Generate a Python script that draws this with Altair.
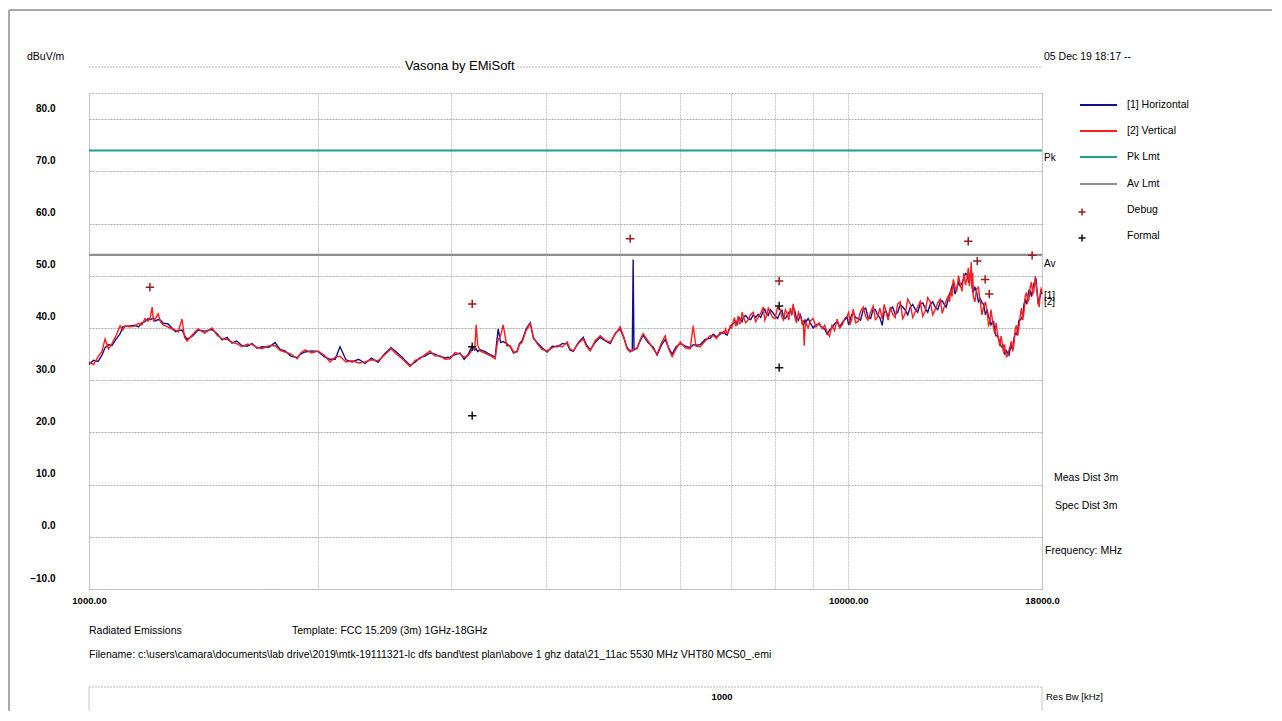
import altair as alt
import pandas as pd

# ---------------- data ----------------
FREQ_MHZ = [
    1000, 1014, 1028, 1040, 1050, 1061, 1072, 1085, 1099, 1108,
    1116, 1133, 1150, 1162, 1174, 1185, 1196, 1204, 1211, 1216,
    1222, 1233, 1242, 1252, 1270, 1286, 1300, 1310, 1326, 1336,
    1346, 1370, 1392, 1420, 1452, 1475, 1497, 1520, 1543, 1565,
    1591, 1615, 1640, 1665, 1690, 1725, 1758, 1785, 1812, 1845,
    1880, 1900, 1926, 1965, 2003, 2040, 2077, 2110, 2141, 2180,
    2221, 2265, 2310, 2355, 2403, 2450, 2500, 2540, 2585, 2648,
    2690, 2730, 2770, 2814, 2855, 2900, 2945, 2990, 3035, 3082,
    3120, 3158, 3197, 3222, 3236, 3250, 3275, 3320, 3376, 3428,
    3445, 3459, 3485, 3512, 3550, 3587, 3625, 3664, 3690, 3720,
    3765, 3812, 3850, 3893, 3950, 4013, 4075, 4137, 4200, 4265,
    4300, 4343, 4410, 4477, 4520, 4573, 4640, 4714, 4790, 4859,
    4935, 5007, 5060, 5115, 5162, 5195, 5209, 5222, 5272, 5320,
    5369, 5450, 5535, 5602, 5670, 5740, 5800, 5863, 5935, 6008,
    6100, 6192, 6249, 6300, 6383, 6480, 6579, 6640, 6710, 6782,
    6860, 6928, 6991, 7055, 7110, 7163, 7220, 7273, 7380, 7497,
    7610, 7728, 7800, 7893, 8010, 8137, 8220, 8311, 8390, 8464,
    8550, 8646, 8700, 8751, 8800, 8912, 9070, 9242, 9383, 9520,
    9672, 9820, 9970, 10060, 10153, 10300, 10466, 10620, 10788, 10930,
    11087, 11220, 11359, 11530, 11709, 11890, 12070, 12250, 12442, 12630,
    12825, 13020, 13220, 13380, 13545, 13650, 13752, 13900, 14047, 14200,
    14349, 14440, 14524, 14570, 14612, 14760, 14926, 15080, 15246, 15360,
    15479, 15600, 15716, 15840, 15956, 16030, 16102, 16220, 16348, 16470,
    16598, 16720, 16848, 16980, 17106, 17240, 17368, 17500, 17633, 17720,
    17795, 17900, 18000,
]

VERT_DB = [
    33.5, 33.0, 34.5, 35.5, 37.9, 36.0, 37.0, 38.5, 40.4, 39.6,
    40.4, 40.2, 40.4, 40.9, 40.6, 41.8, 41.3, 42.0, 44.0, 41.4,
    41.7, 42.7, 41.2, 40.6, 40.2, 39.8, 39.6, 39.2, 41.7, 38.2,
    37.5, 38.8, 39.8, 39.0, 40.0, 38.6, 37.9, 37.8, 37.3, 37.0,
    36.4, 36.9, 36.8, 36.3, 36.0, 36.6, 36.6, 35.7, 35.4, 35.0,
    34.1, 35.2, 35.8, 35.2, 35.6, 34.8, 33.5, 34.4, 34.6, 33.5,
    33.7, 33.3, 33.5, 33.9, 33.7, 34.8, 36.0, 35.0, 34.1, 32.6,
    33.8, 34.1, 34.9, 35.6, 34.6, 34.7, 34.0, 34.1, 35.3, 35.0,
    34.4, 34.7, 35.8, 36.2, 40.6, 36.8, 35.6, 35.2, 34.7, 34.1,
    36.5, 37.8, 38.5, 40.6, 36.6, 36.6, 35.4, 35.4, 36.8, 37.3,
    39.5, 40.8, 38.2, 37.0, 35.9, 35.6, 36.2, 36.6, 36.4, 37.3,
    36.0, 35.6, 37.0, 37.9, 36.5, 35.6, 37.5, 38.5, 37.6, 37.3,
    38.8, 40.2, 38.4, 36.0, 35.4, 35.8, 35.9, 36.0, 36.0, 37.8,
    38.9, 37.5, 36.0, 35.0, 37.0, 38.5, 36.0, 34.5, 36.0, 37.3,
    36.2, 36.0, 40.4, 36.5, 36.4, 37.5, 38.5, 38.5, 38.0, 39.2,
    38.9, 38.9, 40.4, 41.1, 40.3, 42.3, 41.0, 42.3, 41.5, 43.0,
    42.0, 44.0, 42.2, 43.0, 41.8, 43.6, 41.5, 42.7, 43.8, 44.6,
    41.0, 42.1, 40.5, 36.6, 41.0, 41.3, 40.2, 39.8, 39.2, 40.5,
    41.7, 40.6, 42.3, 40.8, 43.6, 41.2, 44.0, 41.5, 44.2, 42.0,
    41.7, 43.0, 44.0, 42.0, 45.0, 42.8, 44.6, 43.0, 45.1, 43.2,
    45.0, 43.5, 45.5, 44.0, 46.1, 47.5, 49.3, 47.0, 48.4, 50.5,
    49.9, 48.0, 52.6, 49.0, 46.1, 47.5, 45.1, 44.0, 43.0, 41.0,
    41.7, 38.8, 39.2, 36.5, 37.0, 35.2, 35.8, 34.7, 36.6, 35.5,
    39.8, 38.5, 42.3, 41.5, 46.1, 45.0, 47.8, 46.5, 49.9, 47.0,
    45.0, 46.5, 47.0,
]

HORIZ_DB = [
    33.0, 33.8, 33.6, 34.8, 36.2, 36.8, 36.6, 37.8, 38.9, 40.2,
    40.3, 40.4, 40.5, 40.2, 41.0, 41.2, 41.8, 41.6, 41.8, 41.9,
    41.3, 41.6, 41.5, 40.9, 40.8, 40.0, 39.3, 39.5, 39.6, 38.6,
    37.8, 38.5, 39.6, 39.4, 39.7, 38.9, 37.7, 38.2, 37.1, 37.5,
    36.6, 36.5, 37.0, 36.1, 36.4, 36.3, 37.2, 35.9, 35.6, 34.6,
    34.3, 35.0, 35.4, 35.6, 35.5, 34.5, 34.0, 34.0, 36.4, 33.9,
    33.5, 34.0, 33.2, 34.2, 33.4, 35.0, 36.2, 35.4, 34.4, 32.8,
    33.5, 34.3, 34.6, 35.2, 35.0, 34.5, 34.3, 34.4, 34.9, 35.2,
    34.0, 34.9, 36.6, 35.8, 36.0, 35.5, 35.8, 35.5, 34.9, 34.4,
    37.5, 39.8, 37.2, 37.4, 37.0, 36.4, 35.2, 35.6, 37.0, 37.6,
    39.8, 41.0, 38.0, 37.2, 36.2, 35.4, 36.5, 36.4, 37.0, 37.0,
    35.8, 35.5, 37.2, 38.2, 36.8, 35.8, 37.2, 38.2, 37.5, 37.0,
    39.0, 39.8, 38.2, 36.2, 35.6, 35.6, 53.1, 35.8, 36.2, 37.5,
    38.6, 37.2, 36.3, 34.8, 36.6, 37.8, 36.2, 35.0, 36.4, 37.0,
    36.5, 36.2, 36.8, 36.7, 36.8, 37.8, 38.0, 38.8, 38.3, 38.8,
    39.3, 38.6, 40.0, 40.8, 41.3, 41.6, 41.5, 42.0, 41.8, 42.5,
    42.6, 43.2, 42.8, 43.5, 42.3, 43.0, 42.0, 42.4, 43.2, 44.0,
    41.8, 42.5, 41.0, 40.8, 41.2, 41.0, 40.6, 40.0, 38.8, 40.0,
    41.2, 41.0, 42.0, 41.5, 43.0, 41.8, 43.5, 42.0, 43.6, 42.5,
    40.5, 43.2, 43.5, 42.6, 44.5, 43.4, 44.0, 43.6, 44.6, 43.8,
    44.5, 44.0, 45.0, 44.5, 45.6, 47.0, 48.5, 47.5, 48.0, 49.5,
    50.2, 48.6, 51.0, 49.5, 46.8, 47.0, 45.6, 44.5, 43.5, 41.8,
    41.0, 39.3, 38.5, 37.2, 36.3, 35.5, 35.0, 35.2, 36.0, 35.8,
    39.0, 39.5, 41.5, 42.3, 45.5, 45.8, 47.0, 47.5, 49.0, 47.5,
    44.5, 46.0, 46.5,
]

# extra sweep points in the noisy upper band (the line mark sorts by frequency)
FREQ_EXTRA = [
    6894, 6960, 7023, 7083, 7137, 7192, 7247, 7327, 7440, 7554,
    7670, 7765, 7847, 7950, 8073, 8180, 8265, 8350, 8427, 8507,
    8600, 8672, 8725, 8775, 8856, 8990, 9155, 9312, 9450, 9595,
    9745, 9895, 10015, 10105, 10226, 10383, 10543, 10704, 10860, 11008,
    11153, 11290, 11445, 11620, 11800, 11980, 12160, 12345, 12536, 12727,
    12922, 13120, 13300, 13462, 13598, 13700, 13826, 13973, 14123, 14275,
    14395, 14482, 14547, 14591, 14686, 14843, 15003, 15163, 15303, 15420,
    15540, 15658, 15778, 15898, 15993, 16066, 16161, 16284, 16409, 16534,
    16659, 16784, 16914, 17043, 17173, 17304, 17434, 17566, 17676, 17758,
    17848, 17950,
]
VERT_EXTRA = [
    39.8, 39.3, 40.0, 42.0, 41.0, 40.8, 43.0, 41.0, 42.6, 41.2,
    42.8, 41.5, 43.8, 42.0, 44.0, 42.0, 43.5, 41.5, 42.5, 42.0,
    43.0, 41.8, 41.5, 40.2, 40.0, 41.8, 41.0, 40.5, 38.4, 39.5,
    40.0, 41.8, 43.0, 41.5, 41.0, 43.2, 42.2, 43.0, 41.6, 43.8,
    44.5, 41.5, 42.6, 44.6, 41.8, 45.5, 42.0, 44.0, 42.2, 45.8,
    42.5, 44.8, 42.8, 45.3, 45.0, 46.0, 48.0, 50.0, 47.0, 48.2,
    51.5, 50.0, 47.5, 50.5, 45.0, 47.8, 42.5, 45.0, 40.5, 43.5,
    40.0, 41.0, 37.8, 38.5, 36.0, 36.8, 34.5, 35.8, 37.5, 37.0,
    40.5, 40.0, 43.8, 43.0, 46.8, 45.5, 48.8, 47.0, 48.5, 46.0,
    44.0, 47.5,
]
HORIZ_EXTRA = [
    38.8, 39.6, 40.6, 41.0, 40.5, 41.9, 41.2, 42.4, 41.6, 42.0,
    42.0, 43.6, 42.4, 43.0, 41.8, 43.4, 41.8, 43.0, 42.6, 43.2,
    41.5, 42.0, 40.6, 41.5, 41.8, 40.0, 40.8, 39.8, 39.6, 40.8,
    40.2, 41.6, 40.6, 42.5, 42.0, 41.5, 43.8, 41.8, 43.5, 42.0,
    43.0, 42.0, 44.0, 43.0, 44.0, 42.5, 44.5, 43.0, 44.8, 43.0,
    45.0, 43.5, 45.2, 44.0, 46.5, 48.0, 46.5, 48.8, 48.6, 50.4,
    49.0, 50.5, 50.0, 47.0, 47.8, 45.0, 44.8, 42.5, 42.0, 40.6,
    41.2, 38.5, 38.0, 36.5, 36.6, 35.0, 35.6, 34.8, 36.5, 38.0,
    38.8, 41.5, 41.8, 44.5, 44.5, 47.2, 46.0, 48.5, 49.5, 46.2,
    45.5, 47.0,
]

PK_LIMIT_DB = [74.0]
AV_LIMIT_DB = [54.0]

DEBUG_FREQ = [1203, 3197, 5162, 8110, 14390, 14790, 15150, 15340, 17470]
DEBUG_DB = [47.8, 44.6, 57.1, 49.0, 56.6, 52.8, 49.3, 46.5, 53.9]
FORMAL_FREQ = [3197, 3197, 8110, 8110]
FORMAL_DB = [36.4, 23.2, 44.2, 32.4]

Y_TICKS = [-10, 0, 10, 20, 30, 40, 50, 60, 70, 80]
X_GRID = [1000, 2000, 3000, 4000, 5000, 6000, 7000, 8000, 9000, 10000, 18000]
X_LABELS = {1000: "1000.00", 10000: "10000.00", 18000: "18000.0"}

LEGEND_NAMES = ["[1] Horizontal", "[2] Vertical", "Pk Lmt", "Av Lmt", "Debug", "Formal"]

# ---------------- styling ----------------
FONT = "Liberation Sans, Arial, sans-serif"
BLUE = "#10108c"
RED = "#ff1c1c"
TEAL = "#1f9e8d"
GREY = "#8e8e8e"
DEBUG_C = "#9a1b1b"
FORMAL_C = "#111111"
GRID_C = "#b0b0b0"
PLUS = "M-1,0L1,0M0,-1L0,1"

W, H = 953, 496

assert len(FREQ_MHZ) == len(VERT_DB) == len(HORIZ_DB)
assert len(FREQ_EXTRA) == len(VERT_EXTRA) == len(HORIZ_EXTRA)

xs = alt.Scale(type="log", domain=[1000, 18000], nice=False)
ys = alt.Scale(domain=[-10, 85], nice=False, zero=False)

label_expr = " : ".join(
    [f"datum.value == {k} ? '{v}'" for k, v in X_LABELS.items()]
) + " : ''"

xaxis = alt.Axis(values=X_GRID, labelExpr=label_expr, title=None, tickSize=0,
                 domain=False, grid=True, gridColor="#c4c4c4", gridDash=[2, 1],
                 labelPadding=6, labelFontSize=9.5, labelFont=FONT,
                 labelFontWeight="bold", labelOverlap=False, labelFlush=False,
                 labelColor="black")
yaxis = alt.Axis(values=Y_TICKS, format=".1f", title=None, tickSize=0,
                 domain=False, grid=True, gridColor=GRID_C, gridDash=[2, 1],
                 labelPadding=34, labelOffset=-11, labelFontSize=10, labelFont=FONT,
                 labelFontWeight="bold", labelColor="black")

X = alt.X("freq:Q", scale=xs, axis=xaxis)
Y = alt.Y("db:Q", scale=ys, axis=yaxis)

df_h = pd.DataFrame({"freq": FREQ_MHZ + FREQ_EXTRA, "db": HORIZ_DB + HORIZ_EXTRA})
df_v = pd.DataFrame({"freq": FREQ_MHZ + FREQ_EXTRA, "db": VERT_DB + VERT_EXTRA})
df_pk = pd.DataFrame({"db": PK_LIMIT_DB})
df_av = pd.DataFrame({"db": AV_LIMIT_DB})
df_dbg = pd.DataFrame({"freq": DEBUG_FREQ, "db": DEBUG_DB})
df_fml = pd.DataFrame({"freq": FORMAL_FREQ, "db": FORMAL_DB})

horiz = alt.Chart(df_h).mark_line(color=BLUE, strokeWidth=1.4).encode(
    x=X, y=Y, order="freq:Q")
vert = alt.Chart(df_v).mark_line(color=RED, strokeWidth=1.4).encode(
    x=X, y=Y, order="freq:Q")
pk = alt.Chart(df_pk).mark_rule(color=TEAL, strokeWidth=2).encode(y=Y)
av = alt.Chart(df_av).mark_rule(color=GREY, strokeWidth=2.2).encode(y=Y)
dbg = alt.Chart(df_dbg).mark_point(shape=PLUS, filled=False, size=70,
                                   strokeWidth=1.5, color=DEBUG_C, opacity=1).encode(x=X, y=Y)
fml = alt.Chart(df_fml).mark_point(shape=PLUS, filled=False, size=70,
                                   strokeWidth=1.5, color=FORMAL_C, opacity=1).encode(x=X, y=Y)

ONE = pd.DataFrame({"k": [0]})


def label(txt, x, y, size=11, align="left", color="black", weight="normal"):
    return alt.Chart(pd.DataFrame({"t": [txt]})).mark_text(
        align=align, baseline="middle", font=FONT, fontSize=size,
        color=color, fontWeight=weight
    ).encode(x=alt.value(x), y=alt.value(y), text="t:N")


def hrule(x1, x2, y, color, width=1, dash=None):
    kw = dict(color=color, strokeWidth=width)
    if dash:
        kw["strokeDash"] = dash
    return alt.Chart(ONE).mark_rule(**kw).encode(
        x=alt.value(x1), x2=alt.value(x2), y=alt.value(y))


def vrule(x, y1, y2, color, width=1, dash=None):
    kw = dict(color=color, strokeWidth=width)
    if dash:
        kw["strokeDash"] = dash
    return alt.Chart(ONE).mark_rule(**kw).encode(
        x=alt.value(x), y=alt.value(y1), y2=alt.value(y2))


def sym(x, y, color):
    return alt.Chart(ONE).mark_point(shape=PLUS, filled=False, size=50,
                                     strokeWidth=1.5, color=color, opacity=1).encode(
        x=alt.value(x), y=alt.value(y))


deco = [
    # window frame
    hrule(-80, 1190, -83, "#a8a8a8", 2),
    vrule(-80, -83, 630, "#a8a8a8", 2),
    # header dotted line, interrupted by the title
    hrule(0, 314, -26, "#c0b0c0", 1, [2, 1]),
    hrule(428, W, -26, "#c0b0c0", 1, [2, 1]),
    label("Vasona by EMiSoft", 316, -27, size=13),
    label("dBuV/m", -62, -36, size=10.5),
    label("05 Dec 19 18:17 --", 955, -36, size=10.5),
    # right-side markers
    label("Pk", 955, 65, size=10),
    label("Av", 955, 171, size=10),
    label("[1]", 955, 203, size=10),
    label("[2]", 955, 209, size=10),
    label("Meas Dist 3m", 965, 385, size=10.5),
    label("Spec Dist 3m", 966, 413, size=10.5),
    label("Frequency: MHz", 956, 458, size=10.5),
    # footer
    label("Radiated Emissions", 0, 538, size=10.5),
    label("Template: FCC 15.209 (3m) 1GHz-18GHz", 203, 538, size=10.5),
    label(r"Filename: c:\users\camara\documents\lab drive\2019\mtk-19111321-lc dfs band\test plan\above 1 ghz data\21_11ac 5530 MHz VHT80 MCS0_.emi",
          0, 562, size=10.5),
    # res bw box
    hrule(0, W, 594, "#b8b8b8", 1, [2, 1]),
    hrule(0, W, 619, "#b8b8b8", 1, [2, 1]),
    vrule(0, 594, 619, "#c8c8c8", 1),
    vrule(W, 594, 619, "#c8c8c8", 1),
    label("1000", 633, 604, size=9.5, align="center", weight="bold"),
    label("Res Bw [kHz]", 957, 604, size=9.5),
]

# legend
LEG_Y = [12, 38, 64, 91, 117, 143]
LEG_COLORS = [BLUE, RED, TEAL, GREY, DEBUG_C, FORMAL_C]
legend = []
for name, yy, col in zip(LEGEND_NAMES, LEG_Y, LEG_COLORS):
    if name in ("Debug", "Formal"):
        legend.append(sym(993, yy + 2, col))
    else:
        legend.append(hrule(991, 1028, yy, col, 2))
    legend.append(label(name, 1038, yy, size=10.5))

chart = alt.layer(
    horiz, vert, pk, av, dbg, fml, *deco, *legend
).properties(
    width=W, height=H,
    autosize=alt.AutoSizeParams(type="none"),
    padding={"left": 81, "top": 85, "right": 230, "bottom": 122},
    background="white",
).configure_view(
    stroke="#b8b8b8", strokeDash=[2, 1], strokeWidth=1
)

chart.save("out.html", embed_options={"renderer": "svg", "actions": False})
